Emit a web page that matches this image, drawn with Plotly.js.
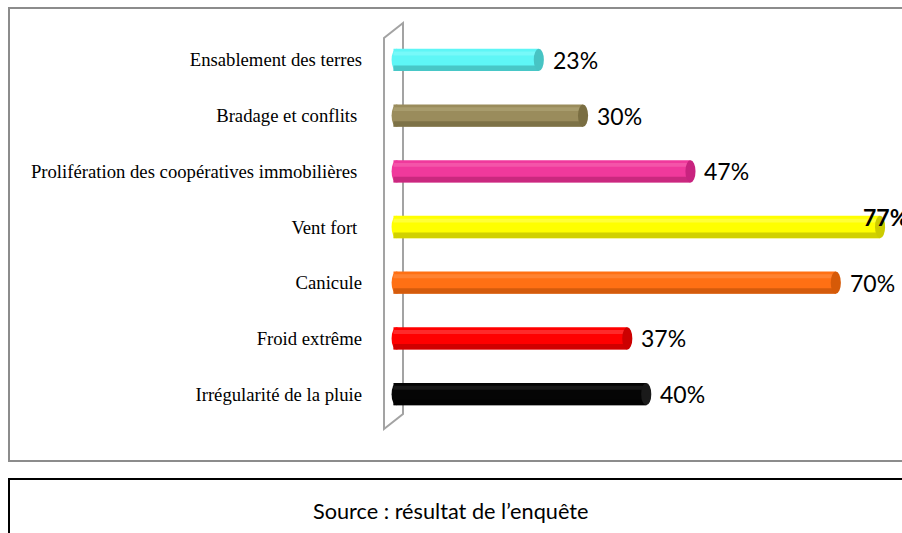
<!DOCTYPE html>
<html>
<head>
<meta charset="utf-8">
<script src="https://cdn.plot.ly/plotly-3.0.1.min.js"></script>
<style>html,body{margin:0;padding:0;background:#fff;}#chart{width:902px;height:533px;}</style>
</head>
<body>
<div id="chart"></div>
<script>
// ---- data ----
const categories = [
  "Ensablement des terres",
  "Bradage et conflits ",
  "Prolifération des coopératives immobilières ",
  "Vent fort ",
  "Canicule",
  "Froid extrême",
  "Irrégularité de la pluie"
];
const values = [23, 30, 47, 77, 70, 37, 40];
const valueLabels = ["23%", "30%", "47%", "77%", "70%", "37%", "40%"];
const sourceText = "Source : résultat de l\u2019enquête";

// ---- styles ----
const baseColors = ["#5ef6f6", "#9a8c5c", "#f0399c", "#ffff00", "#ff7014", "#ff0000", "#050505"];
const darkColors = ["#3aa9a9", "#6b6038", "#b01e6c", "#b3b300", "#b84c06", "#b00000", "#000000"];
const lightColors = ["#8cfcfc", "#b5a97c", "#f76bb5", "#ffff66", "#ff9248", "#ff4a4a", "#2a2a2a"];
const capColors = ["#47c4c4", "#7a6e42", "#c8237f", "#cccc00", "#d65a08", "#cc0000", "#1a1a1a"];

const W = 902, H = 533;
const XMIN = -1.5, XMAX = 80;
const unit = 6.325;
const M = {l: Math.round(393 + XMIN * unit), r: 3, t: 32, b: 111};
const PW = W - M.l - M.r, PH = H - M.t - M.b;
const px = x => (x - M.l) / PW;
const py = y => (H - M.b - y) / PH;

const barW = 0.40;
const traces = [
  {type: 'bar', orientation: 'h', y: categories, x: values, width: barW,
   marker: {color: baseColors, line: {width: 0}}, hoverinfo: 'skip', cliponaxis: false},
  {type: 'bar', orientation: 'h', y: categories, x: values, width: 0.10, offset: 0.10,
   marker: {color: darkColors, line: {width: 0}, opacity: 0.6}, hoverinfo: 'skip', cliponaxis: false},
  {type: 'bar', orientation: 'h', y: categories, x: values, width: 0.07, offset: -0.15,
   marker: {color: lightColors, line: {width: 0}, opacity: 0.55}, hoverinfo: 'skip', cliponaxis: false}
];

const shapes = [];
// end caps (ellipses) and rounded left ends
values.forEach((v, i) => {
  shapes.push({type: 'circle', xref: 'x', yref: 'y', x0: v - 0.8, x1: v + 0.8, y0: i - barW/2, y1: i + barW/2,
    fillcolor: capColors[i], line: {width: 0}, layer: 'above'});
  shapes.push({type: 'circle', xref: 'x', yref: 'y', x0: -0.3, x1: 1.3, y0: i - barW/2, y1: i + barW/2,
    fillcolor: baseColors[i], line: {width: 0}, layer: 'below'});
});
// 3D wall
const wallColor = '#a3a3a3';
shapes.push({type: 'path', xref: 'paper', yref: 'paper', layer: 'below',
  path: `M ${px(384)} ${py(429)} L ${px(384)} ${py(38)} L ${px(403)} ${py(23)} L ${px(403)} ${py(414)} Z`,
  line: {color: wallColor, width: 2}, fillcolor: 'rgba(0,0,0,0)'});
// outer chart border
shapes.push({type: 'rect', xref: 'paper', yref: 'paper', layer: 'below',
  x0: px(9), x1: px(910), y0: py(461), y1: py(8), line: {color: '#8c8c8c', width: 2}});
// source box
shapes.push({type: 'rect', xref: 'paper', yref: 'paper', layer: 'below',
  x0: px(9), x1: px(912), y0: py(545), y1: py(479), line: {color: '#000000', width: 2}});

const maxV = Math.max(...values);
const annotations = values.map((v, i) => {
  const isMax = v === maxV;
  return {
    xref: 'x', yref: 'y', x: v, y: i, text: isMax ? '<b>' + valueLabels[i] + '</b>' : valueLabels[i],
    showarrow: false, xanchor: 'left', yanchor: 'middle',
    xshift: isMax ? -19 : 12, yshift: isMax ? 10 : 0,
    font: {family: 'Lato, "Open Sans", sans-serif', size: 23, color: '#000'}
  };
});
annotations.push({xref: 'paper', yref: 'paper', x: px(450), y: py(511), text: sourceText,
  showarrow: false, xanchor: 'center', yanchor: 'middle',
  font: {family: 'Lato, "Open Sans", sans-serif', size: 21.7, color: '#000'}});

const layout = {
  width: W, height: H, margin: M,
  paper_bgcolor: '#fff', plot_bgcolor: 'rgba(0,0,0,0)',
  barmode: 'overlay', showlegend: false,
  xaxis: {range: [XMIN, XMAX], showgrid: false, zeroline: false, showticklabels: false, showline: false, ticks: ''},
  yaxis: {type: 'category', autorange: 'reversed', showgrid: false, zeroline: false, showline: false, ticks: '',
    ticklabelstandoff: 21,
    tickfont: {family: '"Liberation Serif", "Times New Roman", serif', size: 18.7, color: '#000'}},
  shapes: shapes, annotations: annotations
};

Plotly.newPlot('chart', traces, layout, {staticPlot: true, displayModeBar: false});
</script>
</body>
</html>
